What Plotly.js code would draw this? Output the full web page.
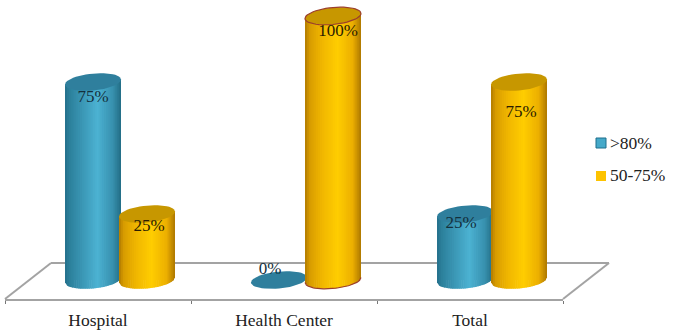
<!DOCTYPE html>
<html>
<head>
<meta charset="utf-8">
<script src="https://cdn.plot.ly/plotly-3.0.1.min.js"></script>
<style>html,body{margin:0;padding:0;background:#fff}#c{width:673px;height:334px}</style>
</head>
<body>
<div id="c"></div>
<script>
var categories = ["Hospital", "Health Center", "Total"];
var seriesNames = [">80%", "50-75%"];
var highValues = [75, 0, 25];
var midValues = [25, 100, 75];

var FONT = '"Liberation Serif", serif';
var PLOT = {l: 5, r: 110, t: 0, b: 35, w: 673, h: 334};
var UX = 186;              // px per category
var UY = 2.64;             // px per percent
var Y0 = 19 / UY;          // floor front edge lies under the value zero
var R = 28 / UX, RY = 8.5 / UY, TILT = 2.5 / UY;
var STRIPS = 30;

var tealStops = [[0, [36,112,138]], [0.08, [44,128,155]], [0.3, [58,150,180]], [0.58, [76,178,210]], [0.85, [56,145,175]], [1, [34,108,132]]];
var amberStops = [[0, [176,122,0]], [0.08, [215,155,0]], [0.3, [240,182,0]], [0.58, [255,205,0]], [0.85, [236,175,0]], [1, [172,118,0]]];
var capTeal = '#2f7f9d', capAmber = '#c79700', edgeRed = '#9c3f2c';

function shade(stops, t) {
  for (var i = 1; i < stops.length; i++) {
    if (t <= stops[i][0]) {
      var a = stops[i-1], b = stops[i], f = (t - a[0]) / (b[0] - a[0]);
      return 'rgb(' + [0,1,2].map(function (k) { return Math.round(a[1][k] + (b[1][k] - a[1][k]) * f); }).join(',') + ')';
    }
  }
  return 'rgb(' + stops[stops.length-1][1].join(',') + ')';
}
function lower(u) { return -RY * Math.sqrt(Math.max(0, 1 - u*u)) + TILT * u; }
function ellipse(cx, cy) {
  var xs = [], ys = [];
  for (var i = 0; i <= 48; i++) {
    var t = 2 * Math.PI * i / 48;
    xs.push(cx + R * Math.cos(t));
    ys.push(cy + RY * Math.sin(t) + TILT * Math.cos(t));
  }
  return {x: xs, y: ys};
}

var traces = [];
function barTrace(name, values, shiftPx, color) {
  return {type: 'bar', name: name, x: categories.map(function (c, i) { return i; }), y: values,
    width: 54 / UX, offset: (shiftPx - 27) / UX, marker: {color: color, line: {width: 0}},
    hoverinfo: 'skip', showlegend: false};
}
traces.push(barTrace(seriesNames[0], highValues, -5, '#3c9bb9'));
traces.push(barTrace(seriesNames[1], midValues, 49, '#f5be00'));

function cylinder(groupIndex, value, shiftPx, stops, cap, outline) {
  var cx = groupIndex + shiftPx / UX;
  if (value > 0) {
    for (var s = 0; s < STRIPS; s++) {
      var u0 = -1 + 2 * s / STRIPS, u1 = -1 + 2 * (s + 1) / STRIPS;
      var ux = Math.min(1, u1 + 0.02);
      traces.push({type: 'scatter', mode: 'lines', fill: 'toself', fillcolor: shade(stops, (s + 0.5) / STRIPS),
        x: [cx + R*u0, cx + R*ux, cx + R*ux, cx + R*u0, cx + R*u0],
        y: [lower(u0), lower(ux), value + TILT*ux, value + TILT*u0, lower(u0)],
        line: {width: 0}, hoverinfo: 'skip', showlegend: false});
    }
  }
  var e = ellipse(cx, value);
  traces.push({type: 'scatter', mode: 'lines', fill: 'toself', fillcolor: cap, x: e.x, y: e.y,
    line: {width: outline ? 1.2 : 0, color: outline ? edgeRed : cap}, hoverinfo: 'skip', showlegend: false});
  if (outline) {
    var xs = [], ys = [];
    for (var i = 0; i <= 40; i++) { var u = -1 + 2 * i / 40; xs.push(cx + R*u); ys.push(lower(u)); }
    traces.push({type: 'scatter', mode: 'lines', x: xs, y: ys, line: {width: 1.2, color: edgeRed}, hoverinfo: 'skip', showlegend: false});
  }
}
categories.forEach(function (c, i) { cylinder(i, highValues[i], -5, tealStops, capTeal, false); });
categories.forEach(function (c, i) { cylinder(i, midValues[i], 49, amberStops, capAmber, midValues[i] === 100); });

var labelDx = [[0, -9, -4], [2, 5, 2]];
var labelDy = [[-16, 10, -10], [-13, -16, -31]];
function labelTrace(values, k, color) {
  return {type: 'scatter', mode: 'text', x: values.map(function (v, i) { return i + ((k ? 49 : -5) + labelDx[k][i]) / UX; }),
    y: values.map(function (v, i) { return v + labelDy[k][i] / UY; }),
    text: values.map(function (v) { return v + '%'; }), textposition: 'middle center',
    textfont: {family: FONT, size: 17, color: color}, hoverinfo: 'skip', showlegend: false};
}
traces.push(labelTrace(highValues, 0, '#14303c'));
traces.push(labelTrace(midValues, 1, '#2a1c00'));

function px(x) { return (x - PLOT.l) / (PLOT.w - PLOT.l - PLOT.r); }
function py(y) { return (PLOT.h - PLOT.b - y) / (PLOT.h - PLOT.t - PLOT.b); }
var floorColor = '#a3a3a3';
var shapes = [
  {type: 'line', xref: 'paper', yref: 'paper', layer: 'below', x0: px(5), y0: py(299), x1: px(51), y1: py(263), line: {color: floorColor, width: 2}},
  {type: 'line', xref: 'paper', yref: 'paper', layer: 'below', x0: px(51), y0: py(263), x1: px(609), y1: py(263), line: {color: floorColor, width: 2}},
  {type: 'line', xref: 'paper', yref: 'paper', layer: 'below', x0: px(609), y0: py(263), x1: px(563), y1: py(299), line: {color: floorColor, width: 2}},
  {type: 'rect', xref: 'paper', yref: 'paper', x0: px(596), x1: px(606), y0: py(148), y1: py(138), fillcolor: '#45a9c9', line: {color: '#1f6f8c', width: 1}},
  {type: 'rect', xref: 'paper', yref: 'paper', x0: px(596), x1: px(606), y0: py(181), y1: py(171), fillcolor: '#fdc300', line: {width: 0}}
];
var annotations = [
  {xref: 'paper', yref: 'paper', x: px(607.5), y: py(143), xanchor: 'left', yanchor: 'middle', showarrow: false, text: seriesNames[0], font: {family: FONT, size: 17.5, color: '#222'}},
  {xref: 'paper', yref: 'paper', x: px(608), y: py(175), xanchor: 'left', yanchor: 'middle', showarrow: false, text: seriesNames[1], font: {family: FONT, size: 17.5, color: '#222'}}
];

var layout = {
  width: PLOT.w, height: PLOT.h, autosize: false, showlegend: false,
  paper_bgcolor: '#fff', plot_bgcolor: 'rgba(0,0,0,0)',
  margin: {l: PLOT.l, r: PLOT.r, t: PLOT.t, b: PLOT.b, pad: 0},
  barmode: 'overlay',
  xaxis: {range: [-0.5, 2.5], tickmode: 'array', tickvals: [0, 1, 2], ticktext: categories, ticks: '', showgrid: false, zeroline: false,
    showline: true, linecolor: floorColor, linewidth: 2, ticklabelstandoff: 4,
    tickfont: {family: FONT, size: 17.5, color: '#222'},
    minor: {tickmode: 'array', tickvals: [-0.5, 0.5, 1.5, 2.5], ticks: 'outside', ticklen: 3, tickwidth: 1, tickcolor: '#777', showgrid: false}},
  yaxis: {range: [-Y0, 280 / UY], visible: false, fixedrange: true},
  shapes: shapes, annotations: annotations
};
Plotly.newPlot('c', traces, layout, {displayModeBar: false, staticPlot: true});
</script>
</body>
</html>
